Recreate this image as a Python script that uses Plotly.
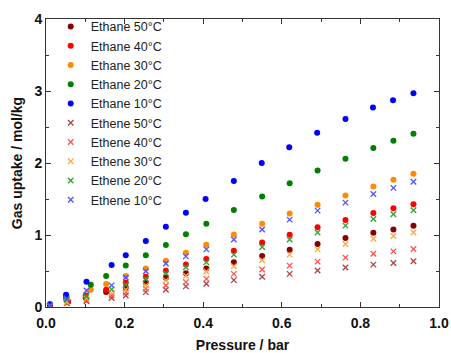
import plotly.graph_objects as go

# Pressure values (bar)
x_ethane10 = [0.01, 0.051, 0.103, 0.167, 0.203, 0.254, 0.305, 0.356, 0.406, 0.478, 0.549, 0.619, 0.690, 0.762, 0.832, 0.883, 0.935]
x_ethane_gy = [0.01, 0.051, 0.114, 0.153, 0.203, 0.254, 0.305, 0.356, 0.408, 0.478, 0.550, 0.620, 0.691, 0.762, 0.833, 0.884, 0.935]
x_ethane_r = [0.01, 0.056, 0.101, 0.153, 0.203, 0.254, 0.305, 0.356, 0.408, 0.478, 0.550, 0.620, 0.691, 0.762, 0.833, 0.884, 0.935]
x_ethene = [0.01, 0.053, 0.103, 0.167, 0.203, 0.254, 0.305, 0.356, 0.408, 0.478, 0.550, 0.620, 0.691, 0.762, 0.833, 0.884, 0.935]

# Gas uptake (mol/kg)
ethane_50 = [0.03, 0.07, 0.13, 0.21, 0.27, 0.34, 0.405, 0.469, 0.534, 0.621, 0.709, 0.796, 0.874, 0.957, 1.03, 1.076, 1.127]
ethane_40 = [0.03, 0.08, 0.16, 0.24, 0.34, 0.419, 0.502, 0.589, 0.667, 0.782, 0.897, 1.003, 1.109, 1.21, 1.306, 1.371, 1.426]
ethane_30 = [0.03, 0.10, 0.24, 0.32, 0.43, 0.534, 0.644, 0.754, 0.865, 1.007, 1.155, 1.297, 1.421, 1.55, 1.675, 1.766, 1.85]
ethane_20 = [0.04, 0.13, 0.31, 0.43, 0.575, 0.72, 0.86, 1.01, 1.155, 1.348, 1.536, 1.72, 1.895, 2.06, 2.21, 2.31, 2.405]
ethane_10 = [0.03, 0.17, 0.35, 0.585, 0.72, 0.915, 1.115, 1.31, 1.50, 1.75, 2.00, 2.22, 2.42, 2.61, 2.77, 2.87, 2.97]
ethene_50 = [0.01, 0.05, 0.08, 0.125, 0.16, 0.207, 0.24, 0.286, 0.322, 0.373, 0.419, 0.46, 0.506, 0.548, 0.589, 0.612, 0.635]
ethene_40 = [0.01, 0.06, 0.10, 0.16, 0.20, 0.254, 0.299, 0.345, 0.391, 0.46, 0.52, 0.575, 0.63, 0.686, 0.74, 0.773, 0.805]
ethene_30 = [0.02, 0.07, 0.12, 0.20, 0.24, 0.30, 0.368, 0.433, 0.492, 0.566, 0.649, 0.727, 0.80, 0.874, 0.948, 0.985, 1.035]
ethene_20 = [0.02, 0.10, 0.15, 0.245, 0.31, 0.39, 0.469, 0.552, 0.621, 0.727, 0.833, 0.938, 1.035, 1.13, 1.223, 1.288, 1.343]
ethene_10 = [0.02, 0.12, 0.23, 0.30, 0.41, 0.497, 0.603, 0.703, 0.80, 0.938, 1.076, 1.214, 1.338, 1.45, 1.57, 1.655, 1.74]

series = [
    ("Ethane 50°C", x_ethane_r, ethane_50, "#8B0000", "circle"),
    ("Ethane 40°C", x_ethane_r, ethane_40, "#FF0000", "circle"),
    ("Ethane 30°C", x_ethane_gy, ethane_30, "#FF8C00", "circle"),
    ("Ethane 20°C", x_ethane_gy, ethane_20, "#008000", "circle"),
    ("Ethane 10°C", x_ethane10, ethane_10, "#0000FF", "circle"),
    ("Ethene 50°C", x_ethene, ethene_50, "#B04040", "x-thin"),
    ("Ethene 40°C", x_ethene, ethene_40, "#FF5050", "x-thin"),
    ("Ethene 30°C", x_ethene, ethene_30, "#FFA840", "x-thin"),
    ("Ethene 20°C", x_ethene, ethene_20, "#30A030", "x-thin"),
    ("Ethene 10°C", x_ethene, ethene_10, "#5050FF", "x-thin"),
]

fig = go.Figure()
for name, xs, ys, col, sym in series:
    if sym == "circle":
        marker = dict(symbol="circle", size=6, color=col, line=dict(width=0))
    else:
        marker = dict(symbol="x-thin", size=5.5, color=col, line=dict(width=1.3, color=col))
    fig.add_trace(go.Scatter(x=xs, y=ys, mode="markers", name=name, marker=marker))

axis_common = dict(
    showline=True, linecolor="#333333", linewidth=1, mirror="ticks",
    ticks="inside", ticklen=5, tickcolor="#333333", tickwidth=1,
    showgrid=False, zeroline=False, automargin=False,
    tickfont=dict(family="Liberation Sans, Arial, sans-serif", size=14, color="#111111", weight="bold"),
)

fig.update_layout(
    width=451, height=353,
    margin=dict(l=46, r=12, t=17, b=46),
    paper_bgcolor="white", plot_bgcolor="white",
    font=dict(family="Liberation Sans, Arial, sans-serif", color="#111111"),
    xaxis=dict(range=[0, 1], dtick=0.2, tickformat=".1f", ticklabelstandoff=3,
               minor=dict(dtick=0.1, ticks="inside", ticklen=3, tickcolor="#333333"),
               title=dict(text="Pressure / bar",
                          font=dict(size=14, weight="bold")),
               **axis_common),
    yaxis=dict(range=[0, 4], dtick=1,
               minor=dict(dtick=0.5, ticks="inside", ticklen=3, tickcolor="#333333"),
               title=dict(text="Gas uptake / mol/kg", standoff=8,
                          font=dict(size=14, weight="bold")),
               **axis_common),
    legend=dict(x=0.012, y=1.025, xanchor="left", yanchor="top",
                bgcolor="rgba(0,0,0,0)", borderwidth=0,
                font=dict(size=12.5, color="#222222"), tracegroupgap=0,
                itemwidth=30, maxheight=400),
    showlegend=True,
)

fig.write_html("out.html")
